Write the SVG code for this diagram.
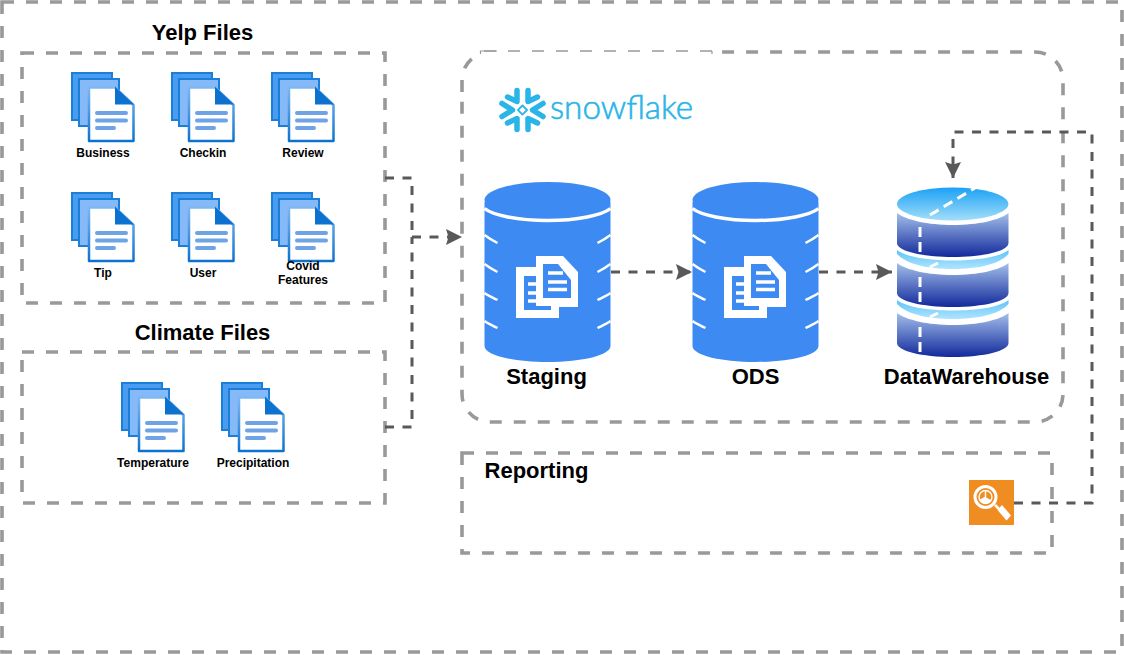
<svg xmlns="http://www.w3.org/2000/svg" width="1124" height="655" viewBox="0 0 1124 655">
<style>
text{font-family:"Liberation Sans",Arial,sans-serif;fill:#000;text-anchor:middle}
.box{fill:none;stroke:#999;stroke-width:3.6;stroke-dasharray:12 12}
.conn{fill:none;stroke:#595959;stroke-width:3;stroke-dasharray:9 8.500}
.small{font-size:12px;font-weight:bold}
.title{font-size:22px;font-weight:bold}
.lab{font-size:22px;font-weight:bold}
.dash{fill:none;stroke:#fff;stroke-width:3}
</style>
<defs>
<marker id="arr" viewBox="0 0 16 16" refX="16" refY="8" markerWidth="16" markerHeight="16" markerUnits="userSpaceOnUse" orient="auto"><path d="M0 0L16 8L0 16L2.500 8Z" fill="#595959"/></marker>
<linearGradient id="top1" x1="0" y1="0" x2="0" y2="1"><stop offset="0" stop-color="#1ba1f5"/><stop offset="1" stop-color="#a3def9"/></linearGradient>
<linearGradient id="body" x1="0" y1="0" x2="0" y2="1"><stop offset="0" stop-color="#a3bfea"/><stop offset="1" stop-color="#12299b"/></linearGradient>
<linearGradient id="ring" x1="0" y1="0" x2="0" y2="1"><stop offset="0" stop-color="#5ec4fa"/><stop offset="1" stop-color="#b0e4fd"/></linearGradient>
<linearGradient id="edge" x1="0" y1="0" x2="0" y2="1"><stop offset="0" stop-color="#7db8f3"/><stop offset="1" stop-color="#0d72cf"/></linearGradient>
<g id="doc">
<rect x="1" y="1" width="40" height="47" fill="#4a9cf0" stroke="#1a7fd8" stroke-width="2"/>
<rect x="8" y="7" width="40" height="47" fill="#86b9f8" stroke="#1a7fd8" stroke-width="2"/>
<path d="M18 15.500H44L62.500 33V69H18Z" fill="#fff" stroke="url(#edge)" stroke-width="2.500" stroke-linejoin="round"/>
<path d="M44 14.500L63 32.500H44Z" fill="#0d72cf"/>
<path d="M26 41H55M26 48.500H55M26 56H43" stroke="#6ea3e6" stroke-width="4" stroke-linecap="round" fill="none"/>
</g>
<g id="cyl">
<path d="M0 21V165C0 174 28 181 63 181S126 174 126 165V21Z" fill="#3d8bf2"/>
<path d="M0 27.500C8 34 33 39.500 63 39.500S118 34 126 27.500" fill="none" stroke="#fff" stroke-width="3.500"/>
<path d="M0 54C4 57 9 60 13 62M0 83C4 86 9 89 13 91M0 112C4 115 9 117 13 119M0 140C4 143 9 145 13 147M126 54C122 57 117 60 113 62M126 83C122 86 117 89 113 91M126 112C122 115 117 117 113 119M126 140C122 143 117 145 113 147" stroke="#fff" stroke-width="2.500" fill="none"/>
<path d="M31.500 86H51.500V75H78.500L93.500 91V126H74.500V137H31.500Z" fill="#fff"/>
<path d="M39.500 95H51.500V125H66.500V129H39.500Z" fill="#3d8bf2"/>
<path d="M58.500 83H73.500L86.500 99V117H58.500Z" fill="#3d8bf2"/>
<path d="M63.500 92H78.500M63.500 101H82.500M63.500 108.500H82.500M43.500 103H51.500M43.500 112H51.500M43.500 120H51.500" stroke="#fff" stroke-width="3.500" fill="none"/>
</g>
</defs>
<rect width="1124" height="655" fill="#fff"/>
<g id="frame"><rect class="box" x="2" y="2" width="1120" height="650"/></g>
<g id="yelp-files">
<rect class="box" x="22" y="53" width="363" height="250"/>
<text class="title" x="202.500" y="40">Yelp Files</text>
</g>
<g id="climate-files">
<rect class="box" x="22" y="352" width="363" height="151"/>
<text class="title" x="202.500" y="340">Climate Files</text>
</g>
<g id="snowflake-box">
<path class="box" d="M462 92V80A28 28 0 0 1 490 52H1035A28 28 0 0 1 1063 80V394A28 28 0 0 1 1035 422H490A28 28 0 0 1 462 394Z"/>
<rect x="481" y="49" width="231" height="7" fill="#fff"/>
<path d="M484 51H712" fill="none" stroke="#999" stroke-width="1.500" stroke-dasharray="12 12"/>
<path d="M480.500 54V51H497M712 51V54" fill="none" stroke="#999" stroke-width="1.200"/>
</g>
<g id="reporting-box">
<rect class="box" x="462" y="453" width="590" height="100"/>
<text class="title" x="536.500" y="478">Reporting</text>
</g>
<g id="business"><use href="#doc" x="71" y="72"/><text class="small" x="103" y="157">Business</text></g>
<g id="checkin"><use href="#doc" x="171" y="72"/><text class="small" x="203" y="157">Checkin</text></g>
<g id="review"><use href="#doc" x="271" y="72"/><text class="small" x="303" y="157">Review</text></g>
<g id="tip"><use href="#doc" x="71" y="192"/><text class="small" x="103" y="277">Tip</text></g>
<g id="user"><use href="#doc" x="171" y="192"/><text class="small" x="203" y="277">User</text></g>
<g id="covid"><use href="#doc" x="271" y="192"/><text class="small" x="303" y="270">Covid</text><text class="small" x="303" y="284">Features</text></g>
<g id="temperature"><use href="#doc" x="121" y="382"/><text class="small" x="153" y="467">Temperature</text></g>
<g id="precipitation"><use href="#doc" x="221" y="382"/><text class="small" x="253" y="467">Precipitation</text></g>
<g id="snowflake-logo">
<g fill="none" stroke="#29b5e8" stroke-width="5.500" stroke-linecap="round" stroke-linejoin="round" transform="translate(522.500 110)">
<path d="M-15 -13L-5.500 -8.500V-19.500M15 -13L5.500 -8.500V-19.500M-15 13L-5.500 8.500V19.500M15 13L5.500 8.500V19.500"/>
<path d="M-20.500 -6.500L-10 0L-20.500 6.500M20.500 -6.500L10 0L20.500 6.500"/>
<rect x="-3.200" y="-3.200" width="6.400" height="6.400" stroke-width="1.800" transform="rotate(45)"/>
</g>
<text x="621.500" y="118.500" textLength="143" lengthAdjust="spacingAndGlyphs" stroke="#29b5e8" stroke-width="0.600" style="font-family:Lato,'Open Sans',sans-serif;font-weight:300;font-size:33px;fill:#29b5e8">snowflake</text>
</g>
<g id="staging"><ellipse cx="547.500" cy="200" rx="63" ry="18" fill="#3d8bf2"/><use href="#cyl" x="484.500" y="181"/><text class="lab" x="546.500" y="383.500">Staging</text></g>
<g id="ods"><ellipse cx="755.500" cy="200" rx="63" ry="18" fill="#3d8bf2"/><use href="#cyl" x="692.500" y="181"/><text class="lab" x="755.500" y="383.500">ODS</text></g>
<g id="datawarehouse">
<path d="M897 313C906 320 928 325 953 325S1000 320 1008.500 313V343C1008.500 351 984 357 953 357S897 351 897 343Z" fill="url(#body)"/>
<path d="M897 300C906 307 928 310.500 953 310.500S1000 307 1008.500 300V304C1000 314 978 319 953 319S906 314 897 304Z" fill="url(#ring)"/>
<path d="M897 263C906 270 928 275 953 275S1000 270 1008.500 263V293C1008.500 301 984 307 953 307S897 301 897 293Z" fill="url(#body)"/>
<path d="M897 250C906 257 928 260.500 953 260.500S1000 257 1008.500 250V254C1000 264 978 269 953 269S906 264 897 254Z" fill="url(#ring)"/>
<path d="M897 213C906 220 928 225 953 225S1000 220 1008.500 213V243C1008.500 251 984 257 953 257S897 251 897 243Z" fill="url(#body)"/>
<ellipse cx="952.700" cy="204" rx="55.700" ry="16.500" fill="url(#top1)"/>
<path class="dash" d="M920 227V237M920 242V252M920 277V287M920 292V302M920 327V337M920 342V352"/>
<path class="dash" d="M930 215L975 188" stroke-dasharray="10 6"/>
<path class="dash" d="M930 267L938 263M930 317L938 313"/>
<text class="lab" x="966.500" y="383.500">DataWarehouse</text>
</g>
<g id="report-icon">
<rect x="969" y="480" width="45" height="45" fill="#f08d22"/>
<circle cx="985.500" cy="497" r="10.500" fill="none" stroke="#fff" stroke-width="3"/>
<circle cx="985.500" cy="497" r="6.500" fill="none" stroke="#fff" stroke-width="1.400"/>
<path d="M985.500 497L991.500 500.500A7 7 0 0 1 979.500 500.500Z" fill="#fff"/>
<path d="M985.500 497V490.500M985.500 497L979.500 500.500" stroke="#fff" stroke-width="1.400" fill="none"/>
<path d="M995 505L999 509" stroke="#fff" stroke-width="2.500"/>
<path d="M997.500 510L1002 505L1011 515.500L1006.500 520.500Z" fill="#fff"/>
</g>
<g id="connectors">
<path class="conn" d="M385 178H412V237"/>
<path class="conn" d="M385 427H412V237"/>
<path class="conn" d="M412 237H462" marker-end="url(#arr)"/>
<path class="conn" d="M611 272H692" marker-end="url(#arr)"/>
<path class="conn" d="M819 272H892" marker-end="url(#arr)"/>
<path class="conn" d="M1014 503H1092V132H953V178" marker-end="url(#arr)"/>
</g>
</svg>
